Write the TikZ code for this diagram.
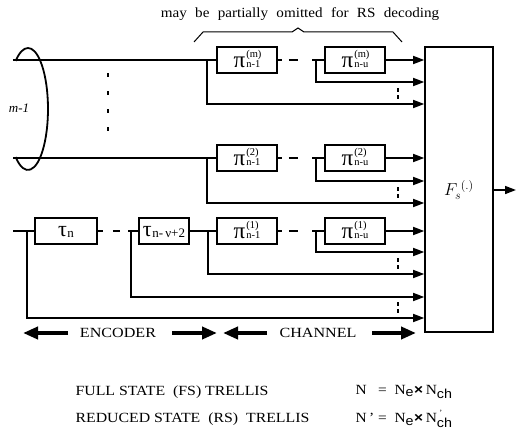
\documentclass[tikz,border=0pt]{standalone}
\usepackage{fontspec}
\setmainfont{Liberation Serif}
\newfontfamily\sansf{Liberation Sans}
\usetikzlibrary{arrows.meta}
\newcommand{\xw}[2]{\scalebox{#1}[1]{#2}}
\newcommand{\pilab}[2]{{\fontsize{23}{23}\selectfont π}\kern1pt{\fontsize{10.5}{10.5}\selectfont\rlap{\raisebox{9.5pt}{#1}}#2}}
\newcommand{\taulab}[1]{{\fontsize{22}{22}\selectfont τ}\kern0.5pt{\fontsize{13}{13}\selectfont\raisebox{-1.5pt}{#1}}}
\begin{document}
\begin{tikzpicture}[x=1pt,y=-1pt,
  wire/.style={line width=1.6pt},
  blk/.style={draw, line width=1.6pt, minimum height=26pt, inner sep=0pt},
  arr/.style={wire, -{Triangle[length=11pt,width=8pt]}},
  bigarr/.style={line width=4pt, -{Triangle[length=15pt,width=12pt]}},
  gap/.style={wire, dash pattern=on 4pt off 7pt on 9pt off 200pt},
  vdots/.style={line width=2.4pt, dash pattern=on 4pt off 3pt},
  lbl/.style={font=\fontsize{14}{14}\selectfont},
  plab/.style={inner sep=0pt, anchor=base},
]
\useasboundingbox (0,0) rectangle (516,436);

% top label and brace
\node[lbl] (note) at (300,14) {\xw{1.08}{\spaceskip=0.55em\relax may be partially omitted for RS decoding}};
\draw[line width=1pt] (194,42) -- (203,32) -- (292,32) -- (298,28) -- (304,32) -- (393,32) -- (402,42);

% boxes
\node[blk, minimum width=60pt] (pm1) at (247,60) {};
\node[blk, minimum width=60pt] (pmu) at (355,60) {};
\node[blk, minimum width=60pt] (p21) at (247,158) {};
\node[blk, minimum width=60pt] (p2u) at (355,158) {};
\node[blk, minimum width=60pt] (p11) at (247,231) {};
\node[blk, minimum width=60pt] (p1u) at (355,231) {};
\node[blk, minimum width=62pt] (tn) at (66,231) {};
\node[blk, minimum width=50pt] (tnv) at (164,231) {};
\node[draw, line width=1.6pt, minimum width=68pt, minimum height=285pt, inner sep=0pt] (fs) at (459,189.5) {};

% box labels
\node[plab] (lpm1) at ([yshift=-7pt]pm1.center) {\pilab{(m)}{n-1}};
\node[plab] (lpmu) at ([yshift=-7pt]pmu.center) {\pilab{(m)}{n-u}};
\node[plab] (lp21) at ([yshift=-7pt]p21.center) {\pilab{(2)}{n-1}};
\node[plab] (lp2u) at ([yshift=-7pt]p2u.center) {\pilab{(2)}{n-u}};
\node[plab] (lp11) at ([yshift=-7pt]p11.center) {\pilab{(1)}{n-1}};
\node[plab] (lp1u) at ([yshift=-7pt]p1u.center) {\pilab{(1)}{n-u}};
\node[plab] (ltn) at ([yshift=-5pt]tn.center) {\taulab{n}};
\node[plab] (ltnv) at ([yshift=-5pt]tnv.center) {\taulab{n-\,ν+2}};
\node[font=\fontsize{17}{17}\selectfont] (fsl) at (459,190) {$F_s^{\;(.)}$};

% coordinates
\coordinate (inm) at (13,60);
\coordinate (in2) at (13,158);
\coordinate (in1) at (13,231);
\coordinate (jm) at (207,60);   \coordinate (bm) at (207,104);
\coordinate (tm) at (312,60);   \coordinate (tmv) at (316,60);  \coordinate (bmt) at (316,82);
\coordinate (j2) at (207,158);  \coordinate (b2) at (207,203);
\coordinate (t2) at (312,158);  \coordinate (t2v) at (316,158); \coordinate (b2t) at (316,181);
\coordinate (j1) at (208,231);  \coordinate (b1) at (208,274);
\coordinate (t1) at (312,231);  \coordinate (t1v) at (316,231); \coordinate (b1t) at (316,252);
\coordinate (j0) at (27,231);   \coordinate (b0) at (27,318);
\coordinate (tt) at (128,231);  \coordinate (ttv) at (131,231); \coordinate (btt) at (131,297);
\coordinate (out) at (516,190);

% row m
\draw[wire] (inm) -- (pm1.west);
\draw[gap] (pm1.east) -- (pmu.west);
\draw[wire] (tm) -- (pmu.west);
\draw[arr] (pmu.east) -- (fs.west |- pmu.east);
\draw[arr] (tmv) -- (bmt) -- (fs.west |- bmt);
\draw[arr] (jm) -- (bm) -- (fs.west |- bm);
% row 2
\draw[wire] (in2) -- (p21.west);
\draw[gap] (p21.east) -- (p2u.west);
\draw[wire] (t2) -- (p2u.west);
\draw[arr] (p2u.east) -- (fs.west |- p2u.east);
\draw[arr] (t2v) -- (b2t) -- (fs.west |- b2t);
\draw[arr] (j2) -- (b2) -- (fs.west |- b2);
% row 1
\draw[wire] (in1) -- (tn.west);
\draw[wire, dash pattern=on 5pt off 10pt on 7pt off 200pt] (tn.east) -- (tnv.west);
\draw[wire] (tt) -- (tnv.west);
\draw[wire] (tnv.east) -- (p11.west);
\draw[gap] (p11.east) -- (p1u.west);
\draw[wire] (t1) -- (p1u.west);
\draw[arr] (p1u.east) -- (fs.west |- p1u.east);
\draw[arr] (t1v) -- (b1t) -- (fs.west |- b1t);
\draw[arr] (j1) -- (b1) -- (fs.west |- b1);
\draw[arr] (ttv) -- (btt) -- (fs.west |- btt);
\draw[arr] (j0) -- (b0) -- (fs.west |- b0);
% output
\draw[arr] (fs.east |- out) -- (out);

% vertical dots near Fs
\draw[vdots] (398,88) -- (398,101);
\draw[vdots] (398,187) -- (398,200);
\draw[vdots] (398,258) -- (398,271);
\draw[vdots] (398,302) -- (398,315);

% left dots and bundle
\draw[line width=2.4pt, dash pattern=on 4pt off 14pt] (108,73) -- (108,132);
\draw[line width=1.8pt] (28,109) ++(128:20 and 61) arc[start angle=128, end angle=-128, x radius=20, y radius=61];
\node[font=\fontsize{13}{13}\selectfont\itshape] (mlab) at (19,108) {m-1};

% encoder / channel
\node[lbl] (enc) at (118,333) {\xw{1.15}{ENCODER}};
\node[lbl] (chn) at (318,333) {\xw{1.15}{CHANNEL}};
\coordinate (ea) at (68,333); \coordinate (eb) at (23,333);
\coordinate (ec) at (172,333); \coordinate (ed) at (217,333);
\coordinate (ca) at (267,333); \coordinate (cb) at (223,333);
\coordinate (cc) at (372,333); \coordinate (cd) at (416,333);
\draw[bigarr] (ea) -- (eb);
\draw[bigarr] (ec) -- (ed);
\draw[bigarr] (ca) -- (cb);
\draw[bigarr] (cc) -- (cd);

% bottom legend
\node[lbl, anchor=west] (fsl1) at (72,392) {\xw{1.13}{FULL STATE\ \ (FS) TRELLIS}};
\node[lbl, anchor=west] (rsl1) at (72,419) {\xw{1.13}{REDUCED STATE\ \ (RS)\ \ TRELLIS}};
\node[lbl, anchor=west] (eq1) at (352,392) {\xw{1.1}{N\ \ \ =\ \ N\textsubscript{\sansf\fontsize{13}{13}\selectfont e}{\sansf\bfseries ×}\,N\textsubscript{\sansf\fontsize{13}{13}\selectfont ch}}};
\node[lbl, anchor=west] (eq2) at (352,419) {\xw{1.1}{N\,'\ =\ \ N\textsubscript{\sansf\fontsize{13}{13}\selectfont e}{\sansf\bfseries ×}\,N\textsubscript{\sansf\fontsize{13}{13}\selectfont ch}\kern-12pt\raisebox{7pt}{\fontsize{8}{8}\selectfont '}\kern9pt}};
\end{tikzpicture}
\end{document}
